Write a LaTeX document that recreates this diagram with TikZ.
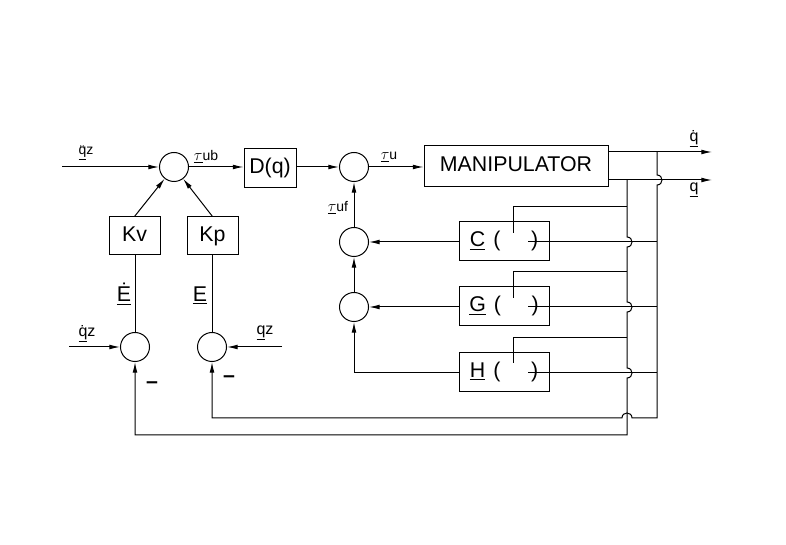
\documentclass[tikz,border=0pt]{standalone}
\usepackage{fontspec}
\setmainfont{Liberation Sans}
\usetikzlibrary{arrows.meta}
\begin{document}
\begin{tikzpicture}[x=0.75pt,y=-0.75pt,
  line width=0.75pt,
  arr/.style={-{Latex[length=8pt,width=3.6pt]}},
  sumc/.style={draw,circle,minimum size=21.75pt,inner sep=0pt},
  blk/.style={draw,rectangle,inner sep=0pt,text height=11.5pt,text depth=3.4pt,font=\fontsize{16}{18}\selectfont},
  lbl/.style={inner sep=0pt,font=\fontsize{10.5}{12}\selectfont},
  mlbl/.style={inner sep=0pt,font=\fontsize{12}{14}\selectfont},
  big/.style={inner sep=0pt,font=\fontsize{16}{18}\selectfont}]
\useasboundingbox (0,0) rectangle (786,545);
% nodes
\node[sumc] (S1) at (174,167) {};
\node[blk,minimum width=39pt,minimum height=29.25pt] (D) at (270,168.5) {D(q)};
\node[sumc] (S2) at (354,167) {};
\node[blk,minimum width=138pt,minimum height=30.75pt] (M) at (516,166.5) {MANIPULATOR};
\node[sumc] (S3) at (354,242) {};
\node[sumc] (S4) at (354,307) {};
\node[blk,minimum width=67.5pt,minimum height=29.25pt] (C) at (504,241.5) {\underline{C}\hspace{6pt}(\hspace{23pt})};
\node[blk,minimum width=67.5pt,minimum height=29.25pt] (G) at (504,306.5) {\underline{G}\hspace{6pt}(\hspace{23pt})};
\node[blk,minimum width=67.5pt,minimum height=29.25pt] (H) at (504,372.5) {\underline{H}\hspace{6pt}(\hspace{23pt})};
\node[blk,minimum width=38.25pt,minimum height=28.5pt] (Kv) at (134.5,236) {Kv};
\node[blk,minimum width=38.25pt,minimum height=28.5pt] (Kp) at (212.5,236) {Kp};
\node[sumc] (S5) at (135,347) {};
\node[sumc] (S6) at (212,347) {};
% coordinates
\coordinate (in1) at (62,167);
\coordinate (o1) at (712,152);
\coordinate (o2) at (712,180);
\coordinate (j1) at (657,152);
\coordinate (j2) at (627,180);
\coordinate (in5) at (69,347);
\coordinate (in6) at (282,347);
\coordinate (c1) at (627,207);
\coordinate (g1) at (627,272);
\coordinate (h1) at (627,338);
\coordinate (cin) at (513,233);
\coordinate (gin) at (513,298);
\coordinate (hin) at (513,363);
\coordinate (cout) at (528,242);
\coordinate (gout) at (528,307);
\coordinate (hout) at (528,373);
\coordinate (b1) at (657,418);
\coordinate (b2) at (627,435);
% forward path
\draw[arr] (in1) -- (S1.west);
\draw[arr] (S1.east) -- (S1.east -| D.west);
\draw[arr] (D.east |- S2.west) -- (S2.west);
\draw[arr] (S2.east) -- (S2.east -| M.west);
\draw[arr] (M.east |- o1) -- (o1);
\draw[arr] (M.east |- o2) -- (o2);
% inner loops
\draw[arr] (S3.north) -- (S2.south);
\draw[arr] (S4.north) -- (S3.south);
\draw[arr] (C.west |- S3.east) -- (S3.east);
\draw[arr] (G.west |- S4.east) -- (S4.east);
\draw[arr] (H.west |- hout) -| (S4.south);
\draw (c1) -| (cin);
\draw (g1) -| (gin);
\draw (h1) -| (hin);
\draw (cout) -- (cout -| j1);
\draw (gout) -- (gout -| j1);
\draw (hout) -- (hout -| j1);
% feedback verticals
\draw[arr] (j1) -- (657,175) .. controls (663.67,175) and (663.67,185) .. (657,185)
  -- (b1) -- (632,418) .. controls (632,411.33) and (622,411.33) .. (622,418)
  -- (S6.south |- b1) -- (S6.south);
\draw[arr] (j2) -- (627,237) .. controls (633.67,237) and (633.67,247) .. (627,247)
  -- (627,302) .. controls (633.67,302) and (633.67,312) .. (627,312)
  -- (627,368) .. controls (633.67,368) and (633.67,378) .. (627,378)
  -- (b2) -- (S5.south |- b2) -- (S5.south);
% gains
\draw[arr] (Kv.north) -- (S1);
\draw[arr] (Kp.north) -- (S1);
\draw (S5.north) -- (S5.north |- Kv.south);
\draw (S6.north) -- (S6.north |- Kp.south);
\draw[arr] (in5) -- (S5.west);
\draw[arr] (in6) -- (S6.east);
% labels
\node[lbl] (lq1) at (86,153) {\underline{q̈}z};
\node[lbl] (ltub) at (206,157) {\underline{\fontsize{13}{14}\selectfont$\tau$}ub};
\node[lbl] (ltu) at (389,157) {\underline{\fontsize{13}{14}\selectfont$\tau$}u};
\node[lbl] (ltuf) at (338,208) {\underline{\fontsize{13}{14}\selectfont$\tau$}uf};
\node[mlbl] (lqd) at (694,139) {\underline{q̇}};
\node[mlbl] (lq) at (694,190) {\underline{q}};
\node[big] (lEd) at (124,294) {\underline{Ė}};
\node[big] (lE) at (200,295) {\underline{E}};
\node[mlbl] (lqdz) at (87,334) {\underline{q̇}z};
\node[mlbl] (lqz) at (265,333) {\underline{q}z};
\node[big] (m1) at (152,385) {\textbf{–}};
\node[big] (m2) at (229,379) {\textbf{–}};
\end{tikzpicture}
\end{document}
